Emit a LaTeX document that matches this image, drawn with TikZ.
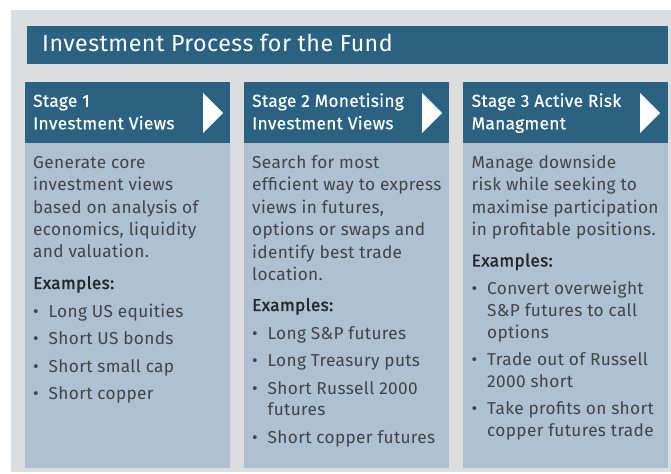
\documentclass[tikz,border=0pt]{standalone}
\usepackage{fontspec}
\setmainfont{Fira Sans}[LetterSpace=2]
\newfontfamily\mediumfont{Fira Sans}[LetterSpace=2, FakeBold=0.6]
\newfontfamily\examplefont{Fira Sans}[LetterSpace=2, FakeBold=1.3]
\usepackage{xcolor}
\usetikzlibrary{positioning}

\definecolor{panelgray}{HTML}{DCDDDF}
\definecolor{stagedark}{HTML}{2B6281}
\definecolor{stagelight}{HTML}{AEC0D2}
\definecolor{bodytext}{HTML}{444444}

% multi-line nodes sit on the baseline of their last line
\tikzset{
	headbar/.style={fill=stagedark},
	bodybox/.style={fill=stagelight},
	titletext/.style={anchor=base west, inner sep=0, text=white,
		font=\fontsize{23.3}{28}\selectfont},
	headtext/.style={anchor=base west, inner sep=0, text=white, align=left,
		font=\mediumfont\fontsize{17.3}{22.6}\selectfont},
	desctext/.style={anchor=base west, inner sep=0, text=bodytext, align=left,
		font=\fontsize{17.3}{22.5}\selectfont},
	extitle/.style={anchor=base west, inner sep=0, text=black!85,
		font=\examplefont\fontsize{17.3}{22.5}\selectfont},
	itemtext/.style={anchor=base west, inner sep=0, text=bodytext, align=left,
		font=\fontsize{17.3}{21.7}\selectfont},
}
\newcommand{\bul}{\makebox[15.5bp][l]{\textbullet}}
\newcommand{\cont}{\hspace*{15.5bp}}

\begin{document}
\begin{tikzpicture}[x=1bp, y=-1bp]
	\useasboundingbox (0,0) rectangle (671,474);
	\fill[panelgray] (11,10) rectangle (671,472);

	% title bar
	\fill[headbar] (27,26) rectangle (668,64);
	\node[titletext] (title) at (42,52) {Investment Process for the Fund};

	% stage 1
	\fill[headbar] (25,82.5) rectangle (230,143.5);
	\fill[bodybox] (25,143.5) rectangle (230,467.5);
	\fill[white] (203,93) -- (223,113) -- (203,133) -- cycle;
	\node[headtext] (head1) at (33,129.3) {Stage 1\\Investment Views};
	\node[desctext] (desc1) at (33,258) {Generate core\\investment views\\based on analysis of\\economics, liquidity\\and valuation.};
	\node[extitle] (ex1) at (33,289) {Examples:};
	\node[itemtext] (list1) at (33,399.6) {\bul Long US equities\\[5.9bp]
		\bul Short US bonds\\[5.9bp]
		\bul Short small cap\\[5.9bp]
		\bul Short copper};

	% stage 2
	\fill[headbar] (244,82.5) rectangle (449,143.5);
	\fill[bodybox] (244,143.5) rectangle (449,467.5);
	\fill[white] (422,93) -- (442,113) -- (422,133) -- cycle;
	\node[headtext] (head2) at (252,129.3) {Stage 2 Monetising\\Investment Views};
	\node[desctext] (desc2) at (252,280.5) {Search for most\\efficient way to express\\views in futures,\\options or swaps and\\identify best trade\\location.};
	\node[extitle] (ex2) at (252,311) {Examples:};
	\node[itemtext] (list2) at (252,443.5) {\bul Long S\&P futures\\[5.9bp]
		\bul Long Treasury puts\\[5.9bp]
		\bul Short Russell 2000\\ \cont futures\\[5.9bp]
		\bul Short copper futures};

	% stage 3
	\fill[headbar] (463,82.5) rectangle (668,143.5);
	\fill[bodybox] (463,143.5) rectangle (668,467.5);
	\fill[white] (640,93) -- (660,113) -- (640,133) -- cycle;
	\node[headtext] (head3) at (471.5,129.3) {Stage 3 Active Risk\\Managment};
	\node[desctext] (desc3) at (471.5,235.5) {Manage downside\\risk while seeking to\\maximise participation\\in profitable positions.};
	\node[extitle] (ex3) at (471.5,266.5) {Examples:};
	\node[itemtext] (list3) at (471.5,436.5) {\bul Convert overweight\\ \cont S\&P futures to call\\ \cont options\\[5.9bp]
		\bul Trade out of Russell\\ \cont 2000 short\\[5.9bp]
		\bul Take profits on short\\ \cont copper futures trade};
\end{tikzpicture}
\end{document}
